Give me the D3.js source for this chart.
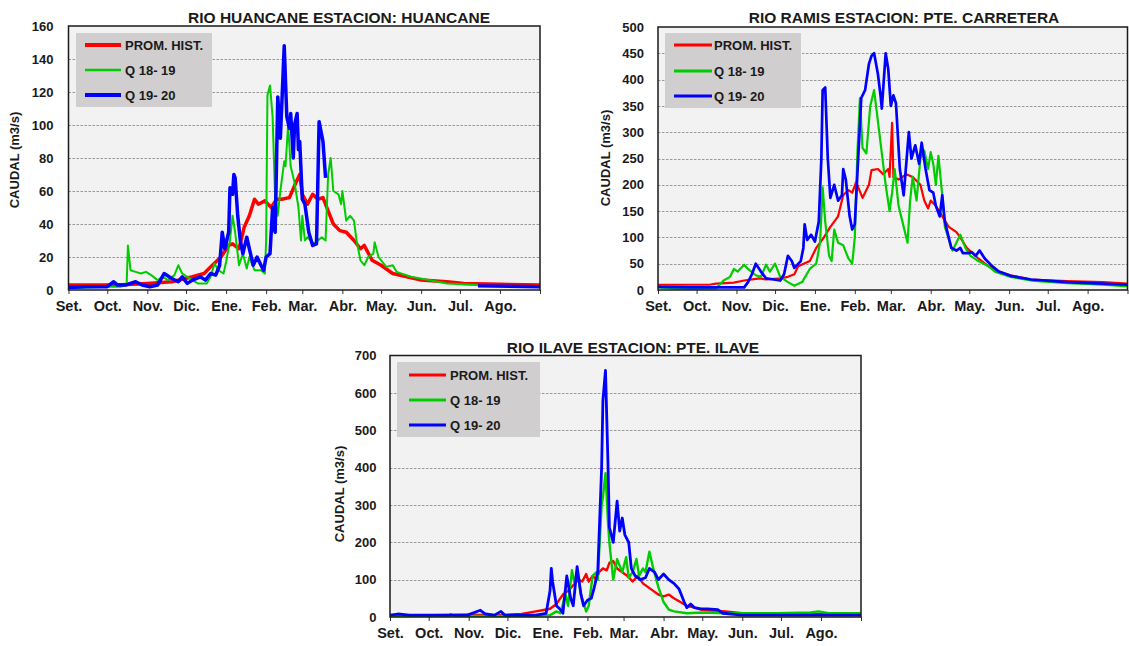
<!DOCTYPE html>
<html>
<head>
<meta charset="utf-8">
<script src="https://cdn.jsdelivr.net/npm/d3@7"></script>
<style>
  html, body { margin: 0; padding: 0; background: #ffffff; }
  svg { display: block; }
  text { font-family: "Liberation Sans", Arial, sans-serif; font-weight: bold; fill: #1a1a1a; }
</style>
</head>
<body>
<svg id="chart" width="1129" height="646"></svg>
<script>
// Hydrological year: month labels and first day (offset from 1 Sep) of each month
const MONTHS = ["Set.", "Oct.", "Nov.", "Dic.", "Ene.", "Feb.", "Mar.", "Abr.", "May.", "Jun.", "Jul.", "Ago."];
const MONTH_START = [0, 30, 61, 91, 122, 153, 181, 212, 242, 273, 303, 334, 365];
const SERIES_NAMES = ["PROM. HIST.", "Q 18- 19", "Q 19- 20"];
const SERIES_COLORS = ["#ff0000", "#00cc00", "#0000ff"];

// Daily discharge (m3/s) as [day, value]; null marks a gap in the record
const huancaneProm = [[0,3],[38,3],[61,4],[80,5],[96,8],[105,10],[110,14],[118,20],[124,27],[127,28],[132,25],[136,38],[140,45],[144,55],[147,52],[152,54],[157,50],[161,55],[165,55],[171,56],[176,65],[179,70],[181,58],[185,52],[189,58],[193,55],[197,56],[201,48],[205,40],[210,36],[215,35],[221,30],[226,25],[229,27],[235,18],[242,15],[251,10],[262,8],[273,6],[293,5],[306,4],[334,3.5],[365,3]];
const huancane1819 = [[0,1],[30,2],[40,2],[45,3],[46,27],[48,12],[52,11],[56,10],[60,11],[64,9],[69,6],[73,8],[77,6],[82,9],[85,15],[88,10],[92,8],[96,6],[100,4],[107,4],[110,8],[113,16],[116,12],[120,10],[122,17],[125,30],[127,45],[129,35],[132,15],[135,22],[138,13],[140,20],[144,12],[149,12],[152,10],[153,30],[154,118],[156,124],[158,105],[160,55],[162,45],[164,60],[167,78],[168,75],[170,100],[172,75],[175,65],[178,50],[180,30],[181,45],[183,30],[185,32],[190,28],[196,32],[199,30],[201,70],[203,80],[205,60],[209,58],[211,52],[212,60],[215,42],[218,45],[221,42],[223,30],[226,18],[229,15],[232,20],[236,22],[237,29],[240,20],[246,14],[251,15],[254,11],[265,8],[279,6],[293,4],[317,3]];
const huancane1920 = [[0,1.5],[13,2],[30,2],[35,5],[38,3],[44,3],[52,5],[57,3],[63,2],[69,3],[74,10],[80,7],[85,5],[88,8],[92,4],[96,6],[102,8],[106,6],[110,10],[114,9],[117,15],[119,35],[121,25],[124,35],[125,62],[127,58],[128,70],[129,68],[131,45],[133,30],[135,22],[138,32],[140,25],[143,15],[146,20],[149,15],[151,12],[153,20],[156,22],[158,50],[159,38],[160,35],[162,117],[164,92],[165,110],[167,148],[169,105],[171,98],[172,107],[174,80],[175,100],[177,107],[178,85],[179,90],[181,55],[183,52],[186,35],[189,27],[192,28],[194,102],[197,90],[199,68],[200,null],[317,2.5],[365,2]];

const ramisProm = [[0,10],[40,10],[45,12],[59,14],[67,18],[79,22],[84,20],[95,22],[101,25],[106,30],[109,45],[118,55],[123,80],[129,100],[134,120],[140,140],[144,180],[148,190],[151,185],[154,205],[159,175],[164,200],[166,228],[171,230],[175,220],[179,230],[180,215],[182,318],[183,215],[187,210],[193,220],[198,215],[204,200],[207,170],[210,155],[212,170],[216,160],[221,140],[226,120],[232,110],[235,100],[240,80],[249,60],[257,45],[265,35],[274,28],[290,20],[318,17],[346,15],[365,12]];
const ramis1819 = [[0,5],[12,3],[26,2],[45,3],[51,18],[56,25],[59,40],[62,35],[67,48],[70,40],[76,28],[80,25],[84,48],[87,35],[91,50],[95,25],[101,15],[106,8],[112,15],[118,40],[123,50],[126,90],[128,195],[130,130],[133,65],[135,55],[137,115],[140,90],[144,85],[148,60],[151,50],[153,100],[155,260],[157,365],[159,270],[162,260],[165,350],[168,380],[170,340],[172,300],[175,240],[177,200],[180,150],[182,185],[184,230],[187,160],[191,120],[194,90],[196,170],[198,215],[201,170],[204,250],[207,265],[210,230],[212,262],[214,240],[216,200],[218,255],[221,180],[223,120],[229,75],[235,105],[239,80],[243,65],[249,55],[257,45],[262,35],[274,25],[290,18],[318,13],[346,10],[365,7]];
const ramis1920 = [[0,6],[26,5],[45,5],[67,5],[70,15],[73,30],[76,50],[80,35],[84,22],[90,20],[95,18],[98,30],[101,65],[104,55],[106,42],[111,55],[113,80],[114,125],[116,95],[119,105],[122,92],[125,130],[127,250],[128,380],[130,385],[132,250],[134,175],[137,200],[140,170],[143,180],[144,230],[146,210],[149,140],[151,115],[153,125],[155,220],[158,365],[161,380],[164,430],[166,445],[168,450],[171,410],[173,370],[174,345],[177,450],[179,420],[181,350],[183,370],[185,355],[188,230],[191,180],[195,300],[197,250],[200,275],[203,240],[205,280],[208,230],[211,190],[214,185],[216,160],[219,140],[221,180],[223,130],[228,80],[232,75],[235,80],[237,70],[241,70],[244,72],[247,65],[250,75],[254,60],[260,45],[265,35],[274,27],[290,20],[318,15],[346,12],[365,10]];

const ilaveProm = [[0,5],[33,5],[60,6],[86,5],[102,8],[113,15],[118,18],[124,22],[129,35],[134,60],[138,70],[142,85],[146,100],[149,95],[152,115],[154,95],[157,110],[160,100],[162,120],[165,130],[168,125],[170,145],[173,150],[176,130],[180,120],[184,110],[188,95],[192,110],[196,90],[200,80],[204,70],[208,60],[212,55],[216,60],[220,50],[225,40],[230,30],[236,25],[241,20],[246,18],[260,15],[273,10],[300,8],[365,8]];
const ilave1819 = [[0,3],[46,3],[47,8],[49,3],[86,3],[113,3],[124,5],[129,15],[132,10],[136,60],[138,30],[141,125],[143,90],[145,125],[148,60],[152,15],[154,30],[157,110],[160,120],[161,100],[164,300],[165,320],[167,385],[169,250],[170,200],[173,100],[176,155],[180,120],[183,160],[185,105],[188,120],[191,155],[193,110],[196,130],[198,120],[201,175],[204,130],[208,80],[212,40],[216,20],[220,15],[230,10],[242,12],[260,10],[273,10],[300,10],[326,12],[332,15],[340,10],[365,10]];
const ilave1920 = [[0,5],[6,8],[15,5],[60,5],[70,18],[74,8],[81,5],[86,15],[89,5],[113,5],[121,10],[124,70],[125,130],[126,95],[129,30],[132,20],[134,10],[137,110],[140,50],[142,30],[145,135],[148,60],[150,30],[153,45],[156,50],[158,75],[161,120],[164,400],[165,580],[167,660],[169,400],[170,240],[173,200],[176,310],[178,230],[180,265],[182,220],[185,200],[187,130],[190,110],[194,100],[198,105],[201,130],[205,120],[208,100],[212,115],[216,100],[220,90],[224,75],[228,40],[230,25],[233,35],[236,25],[241,22],[246,22],[254,20],[258,10],[273,5],[365,5]];

// Panel layout
const panels = [
  { title: "RIO HUANCANE ESTACION: HUANCANE", yMax: 160, yStep: 20,
    left: 68.5, right: 540, top: 26, bottom: 290,
    titleX: 339, titleY: 22.5, yLabelX: 14, yLabelY: 160, yPad: 15,
    legend: { x: 76, y: 33, w: 136, h: 74, l0: 85, l1: 121, tx: 125, rows: [45, 70, 95] },
    widths: [3.5, 2, 3.5], legendWidths: [4, 2.5, 4],
    series: [huancaneProm, huancane1819, huancane1920] },
  { title: "RIO RAMIS ESTACION: PTE. CARRETERA", yMax: 500, yStep: 50,
    left: 658, right: 1127.5, top: 27, bottom: 290,
    titleX: 904, titleY: 22.5, yLabelX: 605.5, yLabelY: 158, yPad: 14,
    legend: { x: 665, y: 33, w: 136, h: 75, l0: 674, l1: 712, tx: 714, rows: [45, 71, 96] },
    widths: [2.2, 2.2, 2.7], legendWidths: [3, 3, 3],
    series: [ramisProm, ramis1819, ramis1920] },
  { title: "RIO ILAVE ESTACION: PTE. ILAVE", yMax: 700, yStep: 100,
    left: 390, right: 861, top: 355.5, bottom: 617,
    titleX: 633, titleY: 353, yLabelX: 339, yLabelY: 494, yPad: 13.5,
    legend: { x: 397, y: 362, w: 143, h: 75, l0: 409, l1: 446, tx: 450, rows: [375, 400, 425] },
    widths: [2.4, 2.4, 2.8], legendWidths: [3, 3, 3],
    series: [ilaveProm, ilave1819, ilave1920] }
];

const svg = d3.select("#chart");

panels.forEach(p => {
  const g = svg.append("g");
  const x = d3.scaleLinear().domain([0, 365]).range([p.left, p.right]);
  const y = d3.scaleLinear().domain([0, p.yMax]).range([p.bottom, p.top]);

  // plot area
  g.append("rect")
    .attr("x", p.left).attr("y", p.top)
    .attr("width", p.right - p.left).attr("height", p.bottom - p.top)
    .attr("fill", "#f2f2f2");

  // dashed horizontal gridlines
  const gridVals = d3.range(p.yStep, p.yMax, p.yStep);
  g.append("g").selectAll("line").data(gridVals).join("line")
    .attr("x1", p.left).attr("x2", p.right)
    .attr("y1", d => Math.round(y(d)) + 0.5).attr("y2", d => Math.round(y(d)) + 0.5)
    .attr("stroke", "#808080").attr("stroke-width", 0.8)
    .attr("stroke-dasharray", "2.5,1.5");

  // y axis labels
  const yAxis = d3.axisLeft(y).tickValues(d3.range(0, p.yMax + 1, p.yStep))
    .tickSize(0).tickPadding(p.yPad).tickFormat(d3.format("d"));
  const ya = g.append("g").attr("transform", `translate(${p.left},0)`).call(yAxis);
  ya.select(".domain").remove();
  ya.selectAll("text").attr("font-size", 13).attr("font-family", null).attr("fill", "#1a1a1a");

  // x axis with month ticks
  const xAxis = d3.axisBottom(x).tickValues(MONTH_START)
    .tickSize(4).tickPadding(7).tickFormat((d, i) => MONTHS[i] || "");
  const xa = g.append("g").attr("transform", `translate(0,${p.bottom})`).call(xAxis);
  xa.select(".domain").remove();
  xa.selectAll("line").attr("stroke", "#333");
  xa.selectAll("text").attr("font-size", 14.5).attr("font-family", null).attr("fill", "#1a1a1a");

  // series lines
  const line = d3.line()
    .defined(d => d[1] !== null)
    .x(d => x(d[0])).y(d => y(d[1]));
  p.series.forEach((s, i) => {
    g.append("path").datum(s)
      .attr("d", line)
      .attr("fill", "none")
      .attr("stroke", SERIES_COLORS[i])
      .attr("stroke-width", p.widths[i])
      .attr("stroke-linejoin", "round");
  });

  // plot frame
  g.append("rect")
    .attr("x", p.left).attr("y", p.top)
    .attr("width", p.right - p.left).attr("height", p.bottom - p.top)
    .attr("fill", "none").attr("stroke", "#1a1a1a").attr("stroke-width", 1.5);

  // legend
  const L = p.legend;
  g.append("rect").attr("x", L.x).attr("y", L.y).attr("width", L.w).attr("height", L.h)
    .attr("fill", "#d0cece");
  SERIES_NAMES.forEach((name, i) => {
    g.append("line").attr("x1", L.l0).attr("x2", L.l1)
      .attr("y1", L.rows[i]).attr("y2", L.rows[i])
      .attr("stroke", SERIES_COLORS[i]).attr("stroke-width", p.legendWidths[i]);
    g.append("text").attr("x", L.tx).attr("y", L.rows[i])
      .attr("dominant-baseline", "central")
      .attr("font-size", 13).text(name);
  });

  // title
  g.append("text").attr("x", p.titleX).attr("y", p.titleY)
    .attr("text-anchor", "middle").attr("font-size", 15.5).text(p.title);

  // y axis title
  g.append("text")
    .attr("transform", `translate(${p.yLabelX},${p.yLabelY}) rotate(-90)`)
    .attr("text-anchor", "middle").attr("dominant-baseline", "central")
    .attr("font-size", 13).text("CAUDAL (m3/s)");
});
</script>
</body>
</html>
